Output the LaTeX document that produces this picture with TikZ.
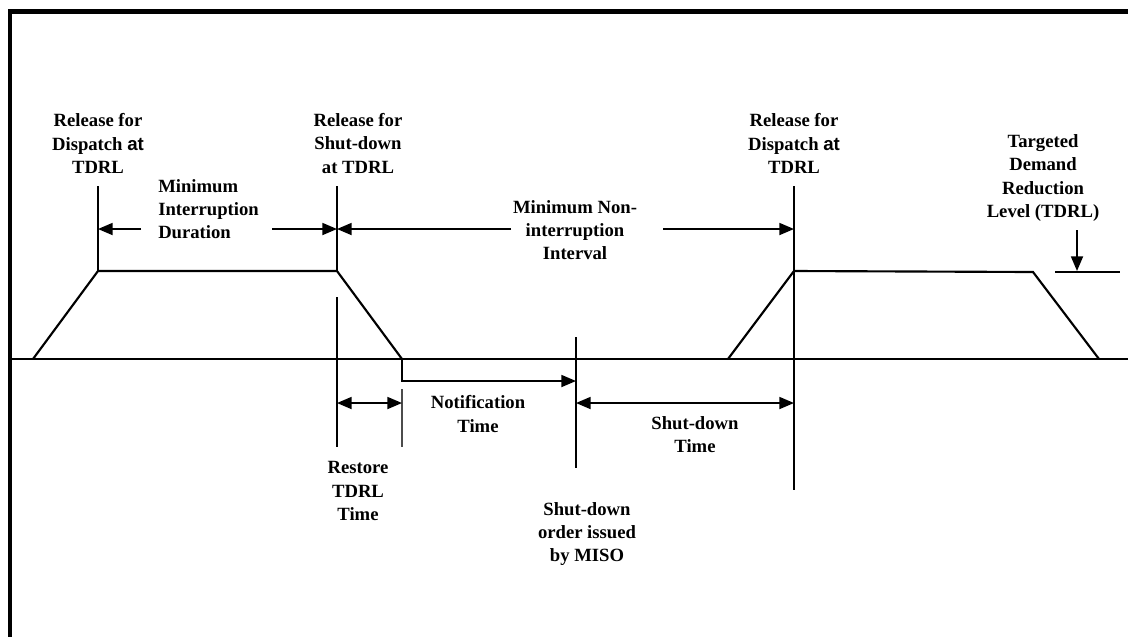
\documentclass[tikz,border=0pt]{standalone}
\usepackage{fontspec}
\setmainfont{Liberation Serif}
\newfontfamily\arialfont{Liberation Sans}
\usetikzlibrary{arrows.meta}

\tikzset{
  lbl/.style={font=\bfseries\fontsize{14}{17.3}\selectfont, align=center, inner sep=0pt},
  base/.style={line width=1.6pt, line join=miter},
  tick/.style={line width=1.3pt},
  dim/.style={line width=1.3pt, -{Triangle[length=11pt,width=9pt]}},
  dimboth/.style={line width=1.3pt, {Triangle[length=11pt,width=9pt]}-{Triangle[length=11pt,width=9pt]}},
}

\begin{document}
\begin{tikzpicture}[x=0.75pt, y=-0.75pt]
\useasboundingbox (0,0) rectangle (1128,637);

% frame
\draw[line width=3.2pt] (1128,11.5) -- (10,11.5) -- (10,637);

% points of the load profile
\coordinate (s1) at (33,359);
\coordinate (d1) at (98,271);
\coordinate (r1) at (337,271);
\coordinate (e1) at (402,359);
\coordinate (s2) at (728,359);
\coordinate (d2) at (794,271);
\coordinate (r2) at (1033,272);
\coordinate (e2) at (1099,359);
\coordinate (ord) at (576,381);

\draw[base] (12,359) -- (1128,359);
\draw[base] (s1) -- (d1) -- (r1) -- (e1);
\draw[base] (s2) -- (d2) -- (r2) -- (e2);

% time marks
\draw[tick] (98,186) -- (d1);
\draw[tick] (337,186) -- (r1);
\draw[tick] (337,297) -- (337,447);
\draw[tick] (576,337) -- (576,468);
\draw[tick] (794,186) -- (794,490);
\draw[line width=0.8pt, black!70] (402,389) -- (402,447);

\node[lbl] (rel1) at (98,143.5) {Release for\\Dispatch {\arialfont at}\\TDRL};
\node[lbl] (rel2) at (358,143.5) {Release for\\Shut-down\\at TDRL};
\node[lbl] (rel3) at (794,143.5) {Release for\\Dispatch {\arialfont at}\\TDRL};
\node[lbl, align=left, anchor=west] (mid) at (158,209) {Minimum\\Interruption\\Duration};
\node[lbl] (mni) at (575,230) {Minimum Non-\\interruption\\Interval};
\node[lbl] (tdrl) at (1043,178) {Targeted\\Demand\\Reduction\\Level (TDRL)};
\node[lbl] (nt) at (478,414) {Notification\\Time};
\node[lbl] (sdt) at (695,435) {Shut-down\\Time};
\node[lbl] (rt) at (358,491) {Restore\\TDRL\\Time};
\node[lbl] (sdo) at (587,534) {Shut-down\\order issued\\by MISO};

% interval arrows
\draw[dim] (141,229) -- (98,229);
\draw[dim] (272,229) -- (337,229);
\draw[dim] (511,229) -- (337,229);
\draw[dim] (663,229) -- (794,229);
\draw[dimboth] (337,403) -- (402,403);
\draw[dimboth] (576,403) -- (794,403);
\draw[dim] (e1) -- (402,381) -- (ord);

% TDRL level
\draw[dim] (1077,230) -- (1077,271);
\draw[base] (1055,272) -- (1120,272);

\end{tikzpicture}
\end{document}
